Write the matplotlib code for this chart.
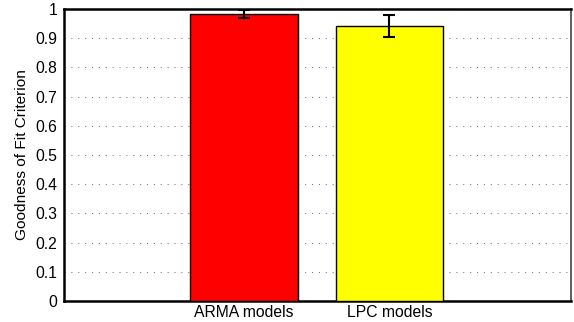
import numpy as np
import matplotlib
matplotlib.use('Agg')
import matplotlib.pyplot as plt

# datos
modelos = ['ARMA models', 'LPC models']
valores = [0.983, 0.942]
errores = [0.015, 0.037]
colores = ['#ff0000', '#ffff00']

plt.rcParams['font.family'] = ['Liberation Sans', 'DejaVu Sans']

fig = plt.figure(figsize=(5.74, 3.22), dpi=100)
ax = fig.add_axes([64 / 574, 1 - 301 / 322, 507 / 574, 292 / 322])

x = np.arange(1, len(modelos) + 1)
ax.bar(x, valores, width=0.74, color=colores, edgecolor='black', linewidth=1.0, zorder=3)
ax.errorbar(x, valores, yerr=errores, fmt='none', ecolor='black', elinewidth=1.5,
            capsize=4, capthick=1.5, zorder=4)

ax.set_xlim(-0.237, 3.248)
ax.set_ylim(0, 1)
ax.set_xticks(x)
ax.set_xticklabels(modelos, fontsize=11.3)
yt = np.arange(0, 1.01, 0.1)
ax.set_yticks(yt)
ax.set_yticklabels(['0'] + ['%.1f' % v for v in yt[1:-1]] + ['1'], fontsize=11.3)
ax.tick_params(length=0, pad=5)
ax.tick_params(axis='x', pad=3)
ax.set_ylabel('Goodness of Fit Criterion', fontsize=11.1, labelpad=4)

# rejilla punteada solo horizontal
ax.yaxis.grid(True, linestyle=(0, (1, 5.6)), color='#777777', linewidth=0.75, zorder=0)
for s in ['left', 'bottom', 'top']:
    ax.spines[s].set_linewidth(1.8)
ax.spines['right'].set_linewidth(1.2)
ax.spines['right'].set_color('#444444')

fig.savefig('out.png', dpi=100)
